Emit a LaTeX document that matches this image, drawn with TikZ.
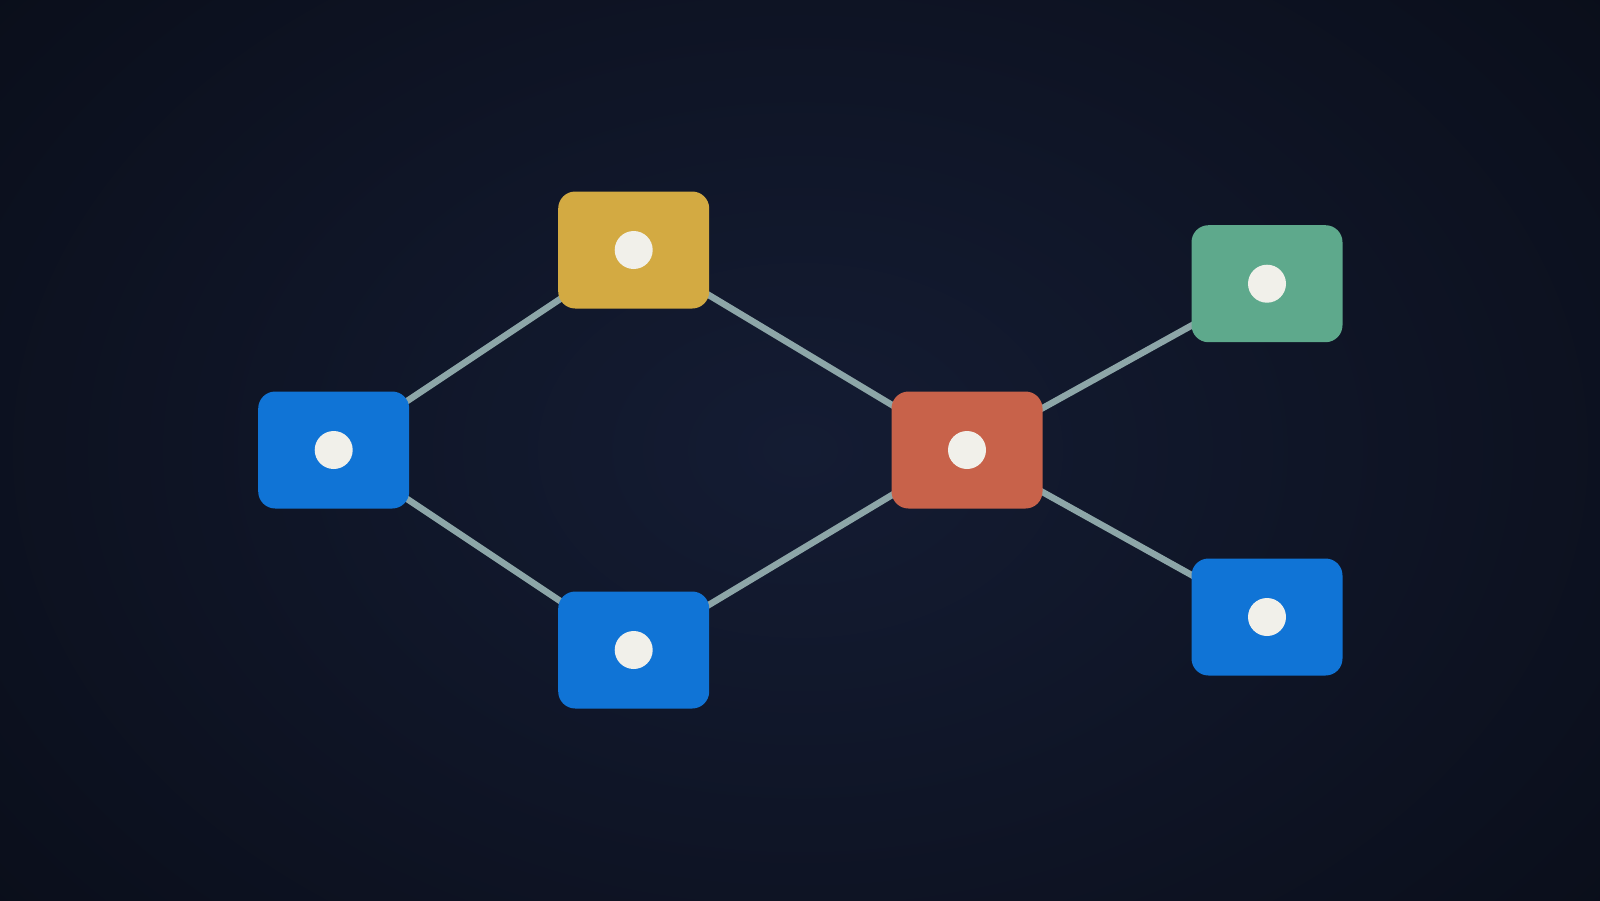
\documentclass[tikz,border=0pt]{standalone}
\begin{document}
\begin{tikzpicture}[x=1pt,y=-1pt,
  box/.style={rounded corners=17pt, minimum width=151pt, minimum height=117pt, inner sep=0pt, draw=none},
  dot/.style={circle, fill=dotwhite, minimum size=38pt, inner sep=0pt},
  link/.style={draw=linkgray, line width=6.5pt}]
\definecolor{bgmid}{HTML}{141C33}
\definecolor{bgedge}{HTML}{0A0E1A}
\definecolor{nodeblue}{HTML}{1074D6}
\definecolor{nodeyellow}{HTML}{D3AA42}
\definecolor{nodered}{HTML}{C8624A}
\definecolor{nodegreen}{HTML}{5EA98C}
\definecolor{linkgray}{HTML}{8DA6A8}
\definecolor{dotwhite}{HTML}{F1F0EA}
\useasboundingbox (0,0) rectangle (1600,900);
\shade[inner color=bgmid, outer color=bgedge] (-250,-300) rectangle (1850,1200);
\coordinate (cA) at (333.7,450);
\coordinate (cB) at (633.7,250);
\coordinate (cC) at (633.7,650);
\coordinate (cD) at (967,450);
\coordinate (cE) at (1267,283.7);
\coordinate (cF) at (1267,617);
\draw[link] (cA) -- (cB);
\draw[link] (cA) -- (cC);
\draw[link] (cB) -- (cD);
\draw[link] (cC) -- (cD);
\draw[link] (cD) -- (cE);
\draw[link] (cD) -- (cF);
\node[box, fill=nodeblue] (A) at (cA) {};
\node[box, fill=nodeyellow] (B) at (cB) {};
\node[box, fill=nodeblue] (C) at (cC) {};
\node[box, fill=nodered] (D) at (cD) {};
\node[box, fill=nodegreen] (E) at (cE) {};
\node[box, fill=nodeblue] (F) at (cF) {};
\foreach \n in {A,B,C,D,E,F} \node[dot] (dot\n) at (\n.center) {};
\end{tikzpicture}
\end{document}
